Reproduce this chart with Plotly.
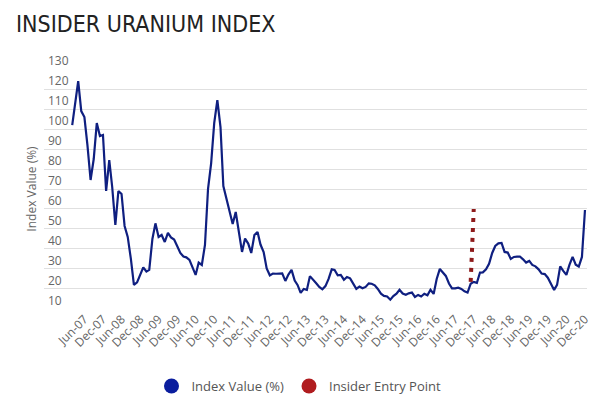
import pandas as pd
import plotly.graph_objects as go

# ---- data (monthly, Feb-2007 .. Dec-2020) ----
start_month = "2007-02-01"
index_values = [
    # 2007 (Feb-Dec)
    102, 113, 124, 109, 106, 92, 74.5, 85, 103, 96.5, 97,
    # 2008
    69, 84.5, 71, 52, 69, 67.5, 51.5, 46, 35, 22, 23.3, 27,
    # 2009
    30.8, 28.7, 29.5, 45, 52.8, 46, 47, 43.5, 48, 45.8, 44.7, 41.5,
    # 2010
    38, 36.2, 35.8, 34.5, 31, 27, 33.2, 32, 42, 70, 83, 103,
    # 2011
    114.5, 101, 71.5, 65.5, 58.5, 52.5, 58.5, 49, 38.5, 45.2, 42.7, 38,
    # 2012
    47, 48.5, 42.2, 38.5, 30.2, 26.8, 27.7, 27.6, 27.8, 27.8, 24, 27.2,
    # 2013
    29.5, 24.2, 22, 18, 20, 19.5, 26.4, 24.8, 22.8, 21, 19.8, 21.4,
    # 2014
    25, 29.8, 29.5, 26.8, 27, 24.6, 26, 25.3, 22.2, 20, 21.2, 20.3,
    # 2015
    21, 22.8, 22.6, 21.8, 20, 17.6, 16.5, 16.2, 14.6, 16.4, 17.6, 19.6,
    # 2016
    17.7, 17.1, 17.8, 18.2, 16, 17, 16.2, 17.6, 16.8, 19.6, 17.5, 25,
    # 2017
    30, 28.4, 26.5, 22.7, 20.3, 20.3, 20.6, 20, 18.8, 18.2, 22.6, 23.5,
    # 2018
    23, 28.2, 28.3, 29.8, 32.6, 38, 41.5, 42.8, 43, 38.5, 38.2, 35,
    # 2019
    36, 36.2, 36.2, 34.8, 33.2, 34, 32, 31.3, 29.8, 27.7, 27.4, 25.6,
    # 2020
    22.5, 19.5, 22, 31.3, 29, 27, 32, 36, 32.1, 31.2, 36, 59.5,
]
index_dates = pd.date_range(start_month, periods=len(index_values), freq="MS")

entry_dates = ["2017-11-01", "2017-12-01"]
entry_values = [23.5, 60]

tick_dates = pd.date_range("2007-06-01", "2020-12-01", freq="6MS")
tick_labels = [d.strftime("%b-%y") for d in tick_dates]

y_ticks = list(range(10, 131, 10))

BLUE_LINE = "#0f1f80"
BLUE_DOT = "#0a1d9e"
RED_LINE = "#8e1b1b"
RED_DOT = "#b01c1f"
GRAY = "#666666"

# page has an 8px body margin: figure sized to fit the 605x412 window
W, H = 589, 396

fig = go.Figure()
fig.add_trace(go.Scatter(
    x=index_dates, y=index_values, mode="lines",
    line=dict(color=BLUE_LINE, width=2.2),
    showlegend=False, name="Index Value (%)",
))
fig.add_trace(go.Scatter(
    x=entry_dates, y=entry_values, mode="lines",
    line=dict(color=RED_LINE, width=4, dash="4px,6px"),
    showlegend=False, name="Insider Entry Point",
))
# legend entries (circle symbols)
fig.add_trace(go.Scatter(
    x=[None], y=[None], mode="markers", name="Index Value (%)",
    marker=dict(color=BLUE_DOT, size=15, symbol="circle"),
))
fig.add_trace(go.Scatter(
    x=[None], y=[None], mode="markers", name="Insider Entry Point",
    marker=dict(color=RED_DOT, size=15, symbol="circle"),
))

fig.update_layout(
    template="none",
    width=W, height=H,
    margin=dict(l=36, r=10, t=61, b=95, autoexpand=False),
    paper_bgcolor="white", plot_bgcolor="white",
    font=dict(family="Open Sans", size=12, color=GRAY),
    title=dict(
        text="INSIDER URANIUM INDEX",
        font=dict(family="DejaVu Sans Condensed, Roboto",
                  size=23, color="#222222"),
        x=8 / W, xanchor="left", xref="container",
        y=1 - 15.5 / H, yanchor="middle", yref="container",
    ),
    legend=dict(
        orientation="h", x=0.4696, xanchor="center", y=-0.321, yanchor="middle",
        font=dict(family="Open Sans", size=13, color="#555555"),
        itemclick=False, itemdoubleclick=False, bgcolor="rgba(0,0,0,0)",
    ),
    showlegend=True,
)
fig.update_xaxes(
    type="date", automargin=False,
    range=["2006-04-29", "2020-12-21"],
    tickmode="array", tickvals=tick_dates, ticktext=tick_labels,
    tickangle=-45, showgrid=False, zeroline=False, showline=False,
    ticks="", tickfont=dict(size=12, color=GRAY),
)
fig.update_yaxes(
    automargin=False,
    range=[9.95, 130.05], tickmode="array", tickvals=y_ticks,
    showgrid=True, gridcolor="#e0e0e0", gridwidth=1,
    zeroline=False, showline=False, ticks="",
    ticklabelposition="inside", ticklabelshift=-8, ticklabelstandoff=1,
    ticklabeloverflow="allow",
    tickfont=dict(size=12, color=GRAY),
    title=dict(text="Index Value (%)", standoff=8, font=dict(size=12, color=GRAY)),
)

fig.write_html("out.html")
